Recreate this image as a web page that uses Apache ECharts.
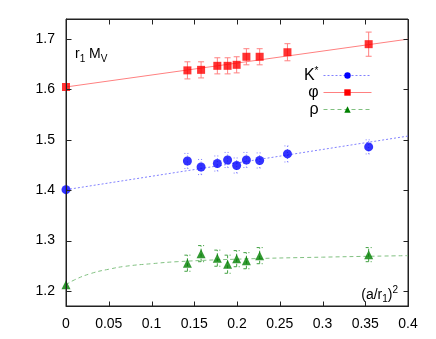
<!DOCTYPE html>
<html>
<head>
<meta charset="utf-8">
<script src="https://cdn.jsdelivr.net/npm/echarts@6/dist/echarts.min.js"></script>
<style>
  html, body { margin: 0; padding: 0; background: #fff; }
  #chart { width: 436px; height: 339px; }
</style>
</head>
<body>
<div id="chart"></div>
<script>
// lattice spacings (a/r1)^2
var xs = [0.142, 0.158, 0.177, 0.189, 0.1996, 0.211, 0.2265, 0.259, 0.354];
var xsRho = [0.142, 0.158, 0.177, 0.189, 0.1996, 0.211, 0.2265, 0.354];

var kstar = [1.458, 1.446, 1.453, 1.460, 1.449, 1.460, 1.459, 1.472, 1.486];
var kstarErr = [0.015, 0.015, 0.015, 0.015, 0.015, 0.015, 0.015, 0.016, 0.014];
var phi = [1.638, 1.639, 1.647, 1.647, 1.649, 1.665, 1.665, 1.674, 1.690];
var phiErr = [0.017, 0.016, 0.016, 0.016, 0.016, 0.016, 0.016, 0.017, 0.024];
var rho = [1.255, 1.274, 1.265, 1.253, 1.264, 1.260, 1.270, 1.272];
var rhoErr = [0.016, 0.016, 0.016, 0.018, 0.016, 0.016, 0.016, 0.014];

// continuum values at a = 0
var kstar0 = 1.401;
var phi0 = 1.605;
var rho0 = 1.212;

// fit curves
var kstarFit = [[0, 1.401], [0.4, 1.5075]];
var phiFit = [[0, 1.605], [0.4, 1.700]];
var rhoFit = [[0, 1.212], [0.01, 1.222], [0.03, 1.235], [0.05, 1.243], [0.07, 1.249],
              [0.1, 1.254], [0.13, 1.258], [0.2, 1.263], [0.3, 1.267], [0.4, 1.270]];

var xTicks = [0, 0.05, 0.1, 0.15, 0.2, 0.25, 0.3, 0.35, 0.4];
var yTicks = [1.2, 1.3, 1.4, 1.5, 1.6, 1.7];
var xMin = 0, xMax = 0.4, yMin = 1.17, yMax = 1.74;

var FONT = '"Liberation Sans", Arial, sans-serif';

function pts(x, y) {
    return x.map(function (v, i) { return [v, y[i]]; });
}
function errPts(x, y, e) {
    return x.map(function (v, i) { return [v, y[i] - e[i], y[i] + e[i]]; });
}

function errorBars(color, dash) {
    return function (params, api) {
        var lo = api.coord([api.value(0), api.value(1)]);
        var hi = api.coord([api.value(0), api.value(2)]);
        var w = 3;
        var st = { stroke: color, lineWidth: 1, lineDash: dash };
        return {
            type: 'group',
            children: [
                { type: 'line', shape: { x1: lo[0], y1: lo[1], x2: hi[0], y2: hi[1] }, style: st },
                { type: 'line', shape: { x1: lo[0] - w, y1: lo[1], x2: lo[0] + w, y2: lo[1] }, style: st },
                { type: 'line', shape: { x1: hi[0] - w, y1: hi[1], x2: hi[0] + w, y2: hi[1] }, style: st }
            ]
        };
    };
}

// frame + inward ticks on all four sides (gnuplot style)
var TICK = 5;
function crisp(v) { return Math.round(v) + 0.5; }
function frameBox() {
    var tl = chartCoord([xMin, yMax]), br = chartCoord([xMax, yMin]);
    return { l: crisp(tl[0]), t: crisp(tl[1]), r: crisp(br[0]), b: crisp(br[1]) };
}
var chartCoord = null;
function xTickMarks(params, api) {
    chartCoord = api.coord;
    var bx = frameBox();
    var x = crisp(api.coord([api.value(0), api.value(1)])[0]);
    var st = { stroke: '#222', lineWidth: 1 };
    var kids = [
        { type: 'line', shape: { x1: x, y1: bx.b, x2: x, y2: bx.b - TICK }, style: st },
        { type: 'line', shape: { x1: x, y1: bx.t, x2: x, y2: bx.t + TICK }, style: st }
    ];
    if (params.dataIndex === 0) {
        kids.push({ type: 'rect',
            shape: { x: bx.l, y: bx.t, width: bx.r - bx.l, height: bx.b - bx.t },
            style: { stroke: '#222', lineWidth: 1, fill: 'none' } });
    }
    return { type: 'group', children: kids };
}
function yTickMarks(params, api) {
    chartCoord = api.coord;
    var bx = frameBox();
    var y = crisp(api.coord([api.value(0), api.value(1)])[1]);
    var st = { stroke: '#222', lineWidth: 1 };
    return {
        type: 'group',
        children: [
            { type: 'line', shape: { x1: bx.l, y1: y, x2: bx.l + TICK, y2: y }, style: st },
            { type: 'line', shape: { x1: bx.r, y1: y, x2: bx.r - TICK, y2: y }, style: st }
        ]
    };
}

function txt(size, extra) {
    var o = { fontSize: size, color: '#000', fontFamily: FONT, fontWeight: 'normal' };
    for (var k in extra) o[k] = extra[k];
    return o;
}

var chart = echarts.init(document.getElementById('chart'), null, { renderer: 'canvas' });

var option = {
    animation: false,
    textStyle: { fontFamily: FONT },
    grid: {
        left: 66, right: 28, top: 19, bottom: 33,
        show: true, borderColor: '#222', borderWidth: 1, backgroundColor: 'rgba(0,0,0,0)'
    },
    title: [
        {
            text: '{a|r}{s|1}{a| M}{s|V}',
            left: 70, top: 40,
            textStyle: {
                rich: {
                    a: txt(14),
                    s: txt(10, { padding: [9, 0, 0, 0] })
                }
            }
        },
        {
            text: '{a|(a/r}{s|1}{a|)}{p|2}',
            right: 33, top: 280,
            textStyle: {
                rich: {
                    a: txt(14),
                    s: txt(10, { padding: [9, 0, 0, 0] }),
                    p: txt(10, { padding: [0, 0, 10, 0] })
                }
            }
        }
    ],
    legend: {
        orient: 'vertical',
        right: 59, top: 61,
        align: 'right',
        itemWidth: 48, itemHeight: 8,
        itemGap: 1,
        data: ['K*', 'φ', 'ρ'],
        lineStyle: { width: 1 },
        formatter: function (n) {
            return n === 'K*' ? '{a|K}{p|*}' : '{a|' + n + '}';
        },
        textStyle: {
            rich: {
                a: txt(16),
                p: txt(10, { padding: [0, 0, 9, 0] })
            }
        }
    },
    xAxis: {
        type: 'value', min: xMin, max: xMax, interval: 0.05,
        axisLine: { show: true, onZero: false, lineStyle: { color: '#222', width: 1 } },
        axisTick: { show: false },
        axisLabel: txt(14, { margin: 11,
            formatter: function (v) { return String(+v.toFixed(2)); } }),
        splitLine: { show: false }
    },
    yAxis: {
        type: 'value', min: yMin, max: yMax,
        axisLine: { show: true, onZero: false, lineStyle: { color: '#222', width: 1 } },
        axisTick: { show: false },
        axisLabel: txt(14, { margin: 11, customValues: yTicks.slice(),
            formatter: function (v) { return v.toFixed(1); } }),
        splitLine: { show: false }
    },
    series: [
        // frame and ticks
        {
            name: 'xTicks', type: 'custom',
            data: xTicks.map(function (v) { return [v, yMin]; }),
            renderItem: xTickMarks, clip: false, silent: true, z: 5
        },
        {
            name: 'yTicks', type: 'custom',
            data: yTicks.map(function (v) { return [xMin, v]; }),
            renderItem: yTickMarks, clip: false, silent: true, z: 5
        },
        // fits (also carry the legend entries)
        {
            name: 'K*', type: 'line', data: kstarFit, showSymbol: false,
            symbol: 'circle', symbolSize: 9,
            itemStyle: { color: '#0000ff' },
            lineStyle: { color: '#8080ff', width: 1, type: [2, 2] },
            z: 2
        },
        {
            name: 'φ', type: 'line', data: phiFit, showSymbol: false,
            symbol: 'rect', symbolSize: 9,
            itemStyle: { color: '#ff0000' },
            lineStyle: { color: '#ff8080', width: 1, type: 'solid' },
            z: 2
        },
        {
            name: 'ρ', type: 'line', data: rhoFit, smooth: true, showSymbol: false,
            symbol: 'triangle', symbolSize: 9,
            itemStyle: { color: '#008000' },
            lineStyle: { color: '#80c080', width: 1, type: [4, 3] },
            z: 2
        },
        // error bars
        {
            name: 'kErr', type: 'custom', data: errPts(xs, kstar, kstarErr),
            renderItem: errorBars('#8080ff', [1, 2]), z: 3
        },
        {
            name: 'phiErr', type: 'custom', data: errPts(xs, phi, phiErr),
            renderItem: errorBars('#ff8080', null), z: 3
        },
        {
            name: 'rhoErr', type: 'custom', data: errPts(xsRho, rho, rhoErr),
            renderItem: errorBars('#40a040', [3, 2]), z: 3
        },
        // data points
        {
            name: 'kPts', type: 'scatter', symbol: 'circle', symbolSize: 9,
            data: [[0, kstar0]].concat(pts(xs, kstar)),
            itemStyle: { color: '#0000ff' }, z: 4
        },
        {
            name: 'phiPts', type: 'scatter', symbol: 'rect', symbolSize: 8,
            data: [[0, phi0]].concat(pts(xs, phi)),
            itemStyle: { color: '#ff0000' }, z: 4
        },
        {
            name: 'rhoPts', type: 'scatter', symbol: 'triangle', symbolSize: 9,
            data: [[0, rho0]].concat(pts(xsRho, rho)),
            itemStyle: { color: '#008000' }, z: 4
        }
    ]
};

chart.setOption(option);
</script>
</body>
</html>
